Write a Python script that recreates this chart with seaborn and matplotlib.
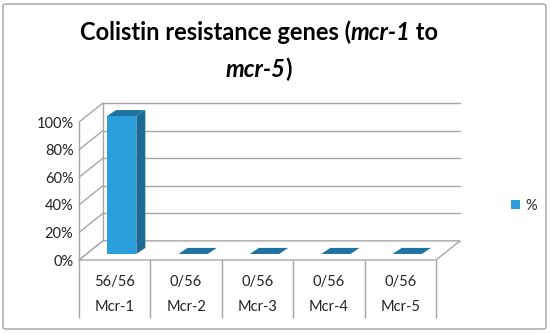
import matplotlib
matplotlib.use("Agg")
import matplotlib.pyplot as plt
import seaborn as sns
import pandas as pd
from matplotlib.patches import Polygon, FancyBboxPatch, Patch
from matplotlib.offsetbox import TextArea, HPacker, VPacker, AnchoredOffsetbox

# data
genes = ["Mcr-1", "Mcr-2", "Mcr-3", "Mcr-4", "Mcr-5"]
counts = ["56/56", "0/56", "0/56", "0/56", "0/56"]
percent = [100, 0, 0, 0, 0]
yticks = [0, 20, 40, 60, 80, 100]

df = pd.DataFrame({"gene": genes, "pct": percent})

sns.set_style("white")
plt.rcParams["font.family"] = ["Lato", "DejaVu Sans"]

front_col = "#2A9FDA"
side_col = "#1B6A93"
top_col = "#1F72A2"
grid_col = "#A6A6A6"
txt_col = "#222222"
fs = 10.5

fig = plt.figure(figsize=(5.5, 3.33), dpi=100)
W, H = 550, 333

# axes box in pixels: front-left-bottom corner (79,260), back-top-right (460,103)
ax = fig.add_axes([79 / W, (H - 260) / H, (460 - 79) / W, (260 - 103) / H])

# pixel -> data scale
px_x = (436 - 79) / 5.0
px_y = 137 / 100.0
wall_dx, wall_dy = 24 / px_x, 19 / px_y     # depth of the back wall
bar_ox, bar_oy = 7 / px_x, 6 / px_y         # bar front offset from front edge
bar_dx, bar_dy = 9 / px_x, 6 / px_y         # bar depth

ax.set_xlim(-0.5, 4.5 + wall_dx)
ax.set_ylim(0, 100 + wall_dy)
for s in ax.spines.values():
    s.set_visible(False)

# back wall gridlines + left wall diagonals
for v in yticks:
    ax.plot([-0.5 + wall_dx, 4.5 + wall_dx], [v + wall_dy, v + wall_dy],
            color=grid_col, lw=1, zorder=1, clip_on=False)
    ax.plot([-0.5, -0.5 + wall_dx], [v, v + wall_dy],
            color=grid_col, lw=1, zorder=1, clip_on=False)
ax.plot([-0.5 + wall_dx, -0.5 + wall_dx], [wall_dy, 100 + wall_dy],
        color=grid_col, lw=1, zorder=1, clip_on=False)
ax.plot([-0.5, -0.5], [0, 100], color=grid_col, lw=1, zorder=1, clip_on=False)

# floor
floor = Polygon([(-0.5, 0), (4.5, 0), (4.5 + wall_dx, wall_dy), (-0.5 + wall_dx, wall_dy)],
                closed=True, facecolor="white", edgecolor=grid_col, lw=1, zorder=1,
                clip_on=False)
ax.add_patch(floor)

# category table lines under the floor
table_h = 58 / px_y
ax.vlines([i - 0.5 for i in range(len(genes) + 1)], -table_h, 0,
          color=grid_col, lw=1, clip_on=False)

# bars
sns.barplot(data=df, x="gene", y="pct", width=0.41, color=front_col,
            saturation=1, ax=ax, zorder=3)
ax.set_xlim(-0.5, 4.5 + wall_dx)
ax.set_ylim(0, 100 + wall_dy)

for p in list(ax.patches):
    if p is floor:
        continue
    x0 = p.get_x() + bar_ox
    w = p.get_width()
    h = p.get_height()
    p.set_x(x0)
    p.set_y(bar_oy)
    p.set_edgecolor("none")
    y0 = bar_oy
    y1 = bar_oy + h
    top = Polygon([(x0, y1), (x0 + w, y1), (x0 + w + bar_dx, y1 + bar_dy), (x0 + bar_dx, y1 + bar_dy)],
                  closed=True, facecolor=top_col, edgecolor="none", zorder=4)
    ax.add_patch(top)
    if h > 0:
        side = Polygon([(x0 + w, y0), (x0 + w + bar_dx, y0 + bar_dy),
                        (x0 + w + bar_dx, y1 + bar_dy), (x0 + w, y1)],
                       closed=True, facecolor=side_col, edgecolor="none", zorder=4)
        ax.add_patch(side)

# ticks
ax.set_yticks(yticks)
ax.set_yticklabels([f"{v}%" for v in yticks], fontsize=fs, color=txt_col)
ax.set_xticks(range(len(genes)))
ax.set_xticklabels([f"{c}\n{g}" for c, g in zip(counts, genes)],
                   fontsize=fs, color=txt_col, linespacing=1.95)
ax.tick_params(axis="both", length=0)
ax.tick_params(axis="y", pad=4)
ax.tick_params(axis="x", pad=11)
ax.set_xlabel("")
ax.set_ylabel("")

# title with italic gene names
bold = dict(fontsize=17, fontweight="bold", color="black", family=["Lato", "DejaVu Sans"])
boldit = dict(bold, fontstyle="italic")
line1 = HPacker(children=[TextArea("Colistin resistance genes (", textprops=bold),
                          TextArea("mcr-1", textprops=boldit),
                          TextArea(" to", textprops=bold)], sep=0, pad=0, align="baseline")
line2 = HPacker(children=[TextArea("mcr-5", textprops=boldit),
                          TextArea(")", textprops=bold)], sep=0, pad=0, align="baseline")
title = VPacker(children=[line1, line2], sep=10, pad=0, align="center")
anch = AnchoredOffsetbox(loc="upper center", child=title, frameon=False, pad=0,
                         bbox_to_anchor=(259 / W, 1 - 20 / H), bbox_transform=fig.transFigure,
                         borderpad=0)
fig.add_artist(anch)

# legend
fig.legend(handles=[Patch(facecolor=front_col, edgecolor="none", label="%")],
           loc="center left", bbox_to_anchor=(504 / W, 1 - 206 / H), frameon=False,
           fontsize=fs, handlelength=0.6, handleheight=0.6, handletextpad=0.4,
           borderpad=0)

# outer frame
fig.patches.append(FancyBboxPatch((3 / W, 4 / H), 543 / W, 325 / H,
                                  boxstyle="round,pad=0,rounding_size=0.006",
                                  transform=fig.transFigure, facecolor="none",
                                  edgecolor="#A0A0A0", lw=1))

fig.savefig("out.png", dpi=100)
